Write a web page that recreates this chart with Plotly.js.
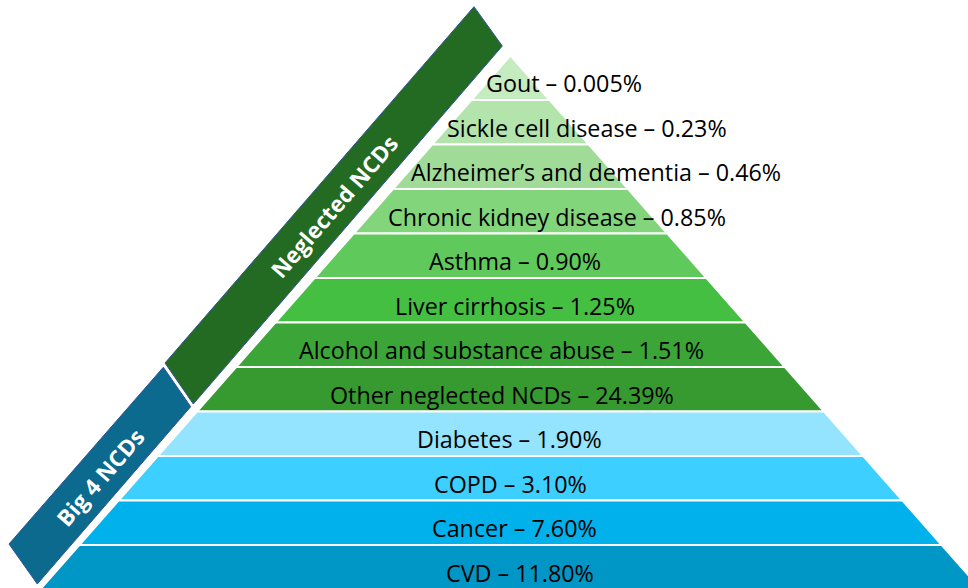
<!DOCTYPE html>
<html><head><meta charset="utf-8">
<script src="https://cdn.plot.ly/plotly-3.0.1.min.js"></script>
<style>html,body{margin:0;padding:0;background:#fff;overflow:hidden}#chart{width:968px;height:588px}</style>
</head><body><div id="chart"></div>
<script>
// ---- data ----
const categories = ["Gout","Sickle cell disease","Alzheimer’s and dementia","Chronic kidney disease","Asthma","Liver cirrhosis","Alcohol and substance abuse","Other neglected NCDs","Diabetes","COPD","Cancer","CVD"];
const shares = [0.005, 0.23, 0.46, 0.85, 0.90, 1.25, 1.51, 24.39, 1.90, 3.10, 7.60, 11.80];
const groupNames = ["Neglected NCDs", "Big 4 NCDs"];
const groupOf = [0,0,0,0,0,0,0,0,1,1,1,1];

// ---- styles / layout ----
const layerColors = ["#C5EBC1","#B2E4AC","#A0DC98","#83D57B","#5FC95B","#45BF42","#3BA637","#369A31","#95E4FF","#3DCFFF","#00B1EC","#0096C6"];
const bannerColors = ["#236A22","#0B6A8D"];
const W = 968, H = 588;
const CX = 510.5, KX = 39.2;   // px of pyramid centre, px per level half-width
const TY = 55.5, KY = 44.5;    // px of apex, px per level
const px2x = p => (p - CX) / KX;
const px2y = p => (p - TY) / KY;
// label horizontal centres (px) per layer
const labelPx = [564, 587, 596, 557, 515, 515, 501, 502, 509, 510, 514, 520];
const labelDy = 0.12;
// banner corners (px)
const bannerPx = [
  [[165,363],[474,6.7],[502.3,46],[193.3,404]],
  [[9,544],[163.3,367.3],[190.7,406.7],[37.3,584]]
];
const bannerText = [[334,206],[100,477]];

const fmt = v => (v < 0.01 ? v.toFixed(3) : v.toFixed(2));

const traces = categories.map((c, i) => ({
  type: 'scatter', mode: 'lines',
  x: [-i, i, i + 1, -(i + 1), -i],
  y: [i, i, i + 1, i + 1, i],
  fill: 'toself', fillcolor: layerColors[i],
  line: {color: '#ffffff', width: 2},
  hoverinfo: 'skip', name: c
}));

const annotations = categories.map((c, i) => ({
  x: px2x(labelPx[i]), y: i + 0.5 + labelDy, xref: 'x', yref: 'y',
  text: c + ' – ' + fmt(shares[i]) + '%', showarrow: false,
  xanchor: 'center', yanchor: 'middle',
  font: {family: 'Open Sans, sans-serif', size: 23.3, color: '#000000'}
}));

const shapes = [];
groupNames.forEach((g, k) => {
  const pts = bannerPx[k].map(p => px2x(p[0]) + ',' + px2y(p[1]));
  shapes.push({type: 'path', xref: 'x', yref: 'y', path: 'M' + pts.join('L') + 'Z',
    fillcolor: bannerColors[k], line: {color: '#2F5597', width: 1}, layer: 'above'});
  annotations.push({x: px2x(bannerText[k][0]), y: px2y(bannerText[k][1]), xref: 'x', yref: 'y',
    text: '<b>' + g + '</b>', showarrow: false, textangle: -49,
    xanchor: 'center', yanchor: 'middle',
    font: {family: 'Open Sans, sans-serif', size: 22.5, color: '#ffffff'}});
});

const layout = {
  width: W, height: H, margin: {l: 0, r: 0, t: 0, b: 0},
  paper_bgcolor: '#ffffff', plot_bgcolor: '#ffffff', showlegend: false,
  xaxis: {range: [px2x(0), px2x(W)], visible: false, fixedrange: true},
  yaxis: {range: [px2y(H), px2y(0)], visible: false, fixedrange: true},
  shapes: shapes, annotations: annotations
};
Plotly.newPlot('chart', traces, layout, {staticPlot: true, displayModeBar: false});
</script></body></html>
